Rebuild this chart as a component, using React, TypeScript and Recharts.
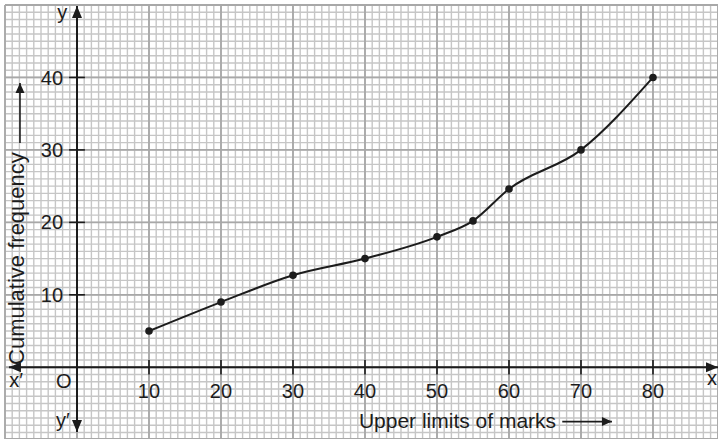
import React from "react";
import { CartesianGrid, Line, LineChart, ReferenceDot, ReferenceLine, XAxis, YAxis } from "recharts";

// Ogive: upper limits of marks vs cumulative frequency
const upperLimits = [10, 20, 30, 40, 50, 55, 60, 70, 80];
const cumulativeFrequency = [5, 9, 12.7, 15, 18, 20.2, 24.6, 30, 40];
const xTickValues = [10, 20, 30, 40, 50, 60, 70, 80];
const yTickValues = [10, 20, 30, 40];

const INK = "#1c1c1c";
const FONT = "'Liberation Sans', Arial, Helvetica, sans-serif";

const X_DOMAIN: [number, number] = [-10, 89.03];
const Y_DOMAIN: [number, number] = [-9.9, 50];

const range = (a: number, b: number, step = 1) => {
  const out: number[] = [];
  for (let v = a; v <= b; v += step) out.push(v);
  return out;
};

const minorX = range(-10, 89);
const minorY = range(-9, 50);
const majorX = range(-10, 80, 10);
const majorY = range(0, 50, 10);

const arrowShape = (both: boolean, len: number, half: number, width: number) => (p: any) => {
  const { x1, y1, x2, y2 } = p;
  const head = (tx: number, ty: number, fx: number, fy: number) => {
    const dx = tx - fx;
    const dy = ty - fy;
    const d = Math.hypot(dx, dy) || 1;
    const ux = dx / d;
    const uy = dy / d;
    const bx = tx - ux * len;
    const by = ty - uy * len;
    return (
      <polygon
        points={`${tx},${ty} ${bx - uy * half},${by + ux * half} ${bx + uy * half},${by - ux * half}`}
        fill={INK}
      />
    );
  };
  return (
    <g>
      <line x1={x1} y1={y1} x2={x2} y2={y2} stroke={INK} strokeWidth={width} />
      {head(x2, y2, x1, y1)}
      {both && head(x1, y1, x2, y2)}
    </g>
  );
};

const textStyle = { fill: INK, fontFamily: FONT, fontSize: 20 };

const Note = ({ x, y, text, size = 20, angle = 0 }: any) => (
  <ReferenceDot
    x={x}
    y={y}
    r={0}
    fill="none"
    stroke="none"
    label={{ value: text, position: "center", ...textStyle, fontSize: size, angle }}
  />
);

export default function App() {
  const data = upperLimits.map((x, i) => ({ x, y: cumulativeFrequency[i] }));

  return (
    <div style={{ width: 718, height: 439, background: "#fff" }}>
      <style>{"body{margin:0}"}</style>
      <LineChart width={718} height={439} data={data} margin={{ top: 5, right: 0, bottom: 0, left: 5 }}>
        <XAxis dataKey="x" type="number" domain={X_DOMAIN} ticks={minorX} interval={0} allowDataOverflow hide />
        <YAxis type="number" domain={Y_DOMAIN} ticks={minorY} interval={0} allowDataOverflow hide />
        <XAxis
          xAxisId="major"
          dataKey="x"
          type="number"
          domain={X_DOMAIN}
          ticks={majorX}
          interval={0}
          allowDataOverflow
          hide
        />
        <YAxis yAxisId="major" type="number" domain={Y_DOMAIN} ticks={majorY} interval={0} allowDataOverflow hide />

        <CartesianGrid stroke="#c6c6c6" strokeWidth={1.4} />
        <CartesianGrid xAxisId="major" yAxisId="major" stroke="#a8a8a8" strokeWidth={1.8} />

        {/* axes */}
        <ReferenceLine
          segment={[{ x: -9.45, y: 0 }, { x: 89.03, y: 0 }]}
          shape={arrowShape(true, 12, 5, 2)}
        />
        <ReferenceLine
          segment={[{ x: 0, y: -8.95 }, { x: 0, y: 49.85 }]}
          shape={arrowShape(true, 12, 5, 2)}
        />

        {xTickValues.map((v) => (
          <ReferenceLine
            key={`xt-${v}`}
            segment={[{ x: v, y: -1 }, { x: v, y: 1 }]}
            stroke={INK}
            strokeWidth={1.6}
            label={{ value: String(v), position: "bottom", offset: 9, ...textStyle }}
          />
        ))}
        {yTickValues.map((v) => (
          <ReferenceLine
            key={`yt-${v}`}
            segment={[{ x: -1.1, y: v }, { x: 1.1, y: v }]}
            stroke={INK}
            strokeWidth={1.6}
            label={{ value: String(v), position: "left", offset: 6, ...textStyle }}
          />
        ))}

        {/* axis names */}
        <Note x={-2.05} y={49.1} text="y" />
        <Note x={-1.95} y={-7.3} text="y′" />
        <Note x={-1.85} y={-1.95} text="O" />
        <Note x={-8.45} y={-1.75} text="x′" />
        <Note x={88.2} y={-1.5} text="x" />

        <Note x={52.85} y={-7.35} text="Upper limits of marks" size={21} />
        <ReferenceLine
          segment={[{ x: 67.4, y: -7.5 }, { x: 74.3, y: -7.5 }]}
          shape={arrowShape(false, 10, 4.5, 1.6)}
        />
        <Note x={-8.45} y={15.0} text="Cumulative frequency" size={22} angle={-90} />
        <ReferenceLine
          segment={[{ x: -7.92, y: 30.95 }, { x: -7.92, y: 39.25 }]}
          shape={arrowShape(false, 10, 4.5, 1.6)}
        />

        <Line
          type="monotone"
          dataKey="y"
          stroke={INK}
          strokeWidth={2}
          dot={{ r: 3.8, fill: INK, stroke: INK, strokeWidth: 0 }}
          activeDot={false}
          isAnimationActive={false}
        />
      </LineChart>
    </div>
  );
}
